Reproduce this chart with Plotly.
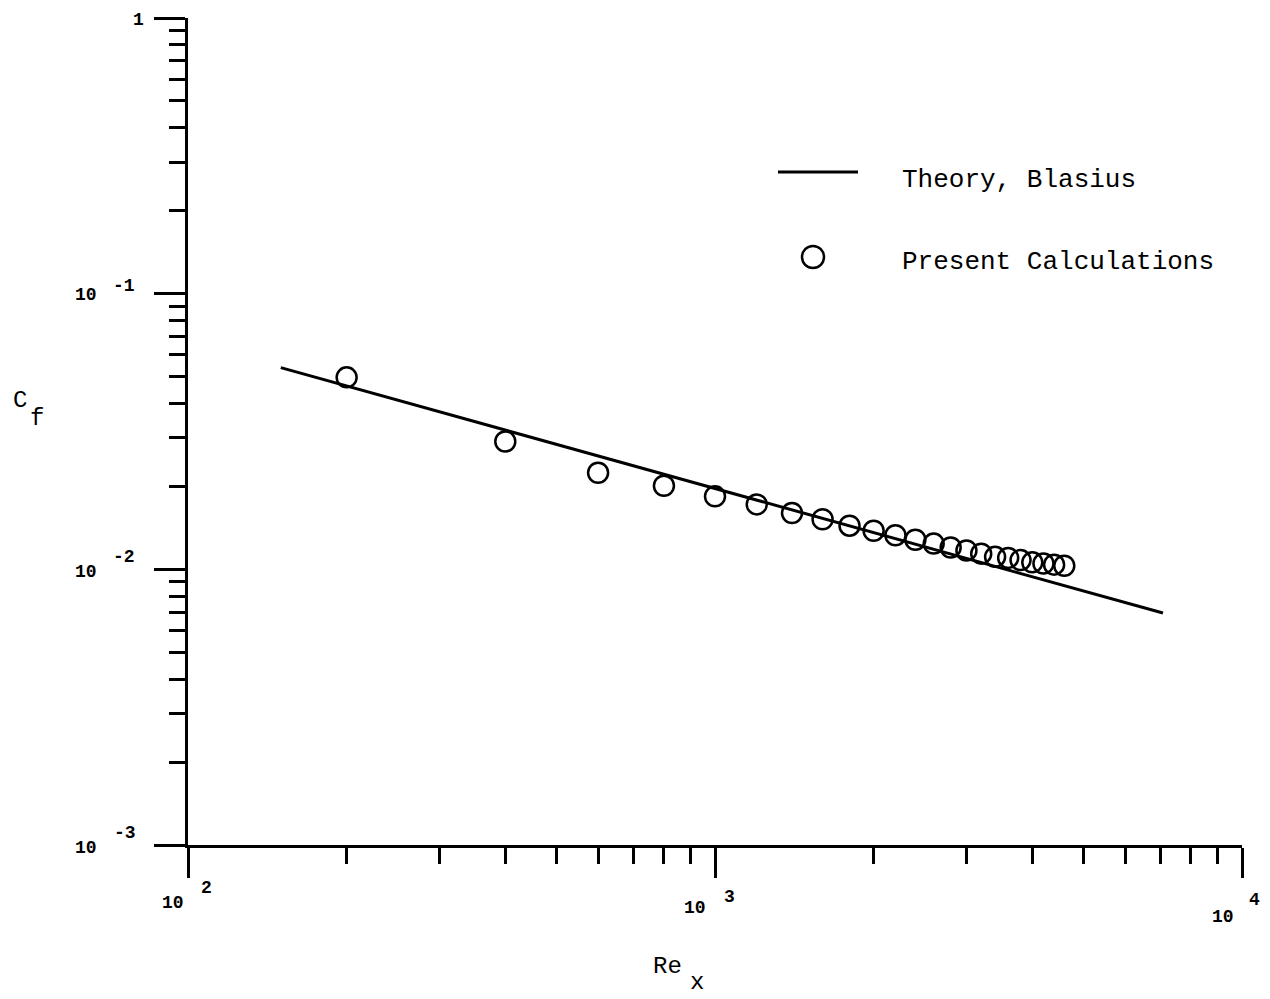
import plotly.graph_objects as go

# ---- data ----
theory_re = [150, 7080]
theory_cf = [0.0539, 0.00694]

calc_re = [200, 400, 600, 800, 1000, 1200, 1400, 1600, 1800, 2000, 2200, 2400,
           2600, 2800, 3000, 3200, 3400, 3600, 3800, 4000, 4200, 4400, 4600]
calc_cf = [0.0497, 0.0291, 0.0224, 0.0201, 0.0184, 0.0172, 0.0160, 0.0152, 0.0144,
           0.0138, 0.0133, 0.0128, 0.0124, 0.0120, 0.0117, 0.0114, 0.0111, 0.0110,
           0.0108, 0.0106, 0.0105, 0.0104, 0.0103]

x_major = [100, 1000, 10000]
x_minor = [m * d for d in (100, 1000) for m in range(2, 10)]
y_major = [0.001, 0.01, 0.1, 1]
y_minor = [m * d for d in (0.001, 0.01, 0.1) for m in range(2, 10)]

legend_labels = ["Theory, Blasius", "Present Calculations"]

# page body has an 8px margin; size the figure so it fills the window
OFF = 8
W, H = 1270 - OFF, 999 - OFF
L, T = 188 - OFF, 18 - OFF
R = W - (1242 - OFF)
B = H - (845 - OFF)
PW, PH = W - L - R, H - T - B


def px(x):  # screenshot pixel -> paper
    return (x - OFF - L) / PW


def py(y):
    return (H - B - (y - OFF)) / PH


fig = go.Figure()
fig.add_trace(go.Scatter(x=theory_re, y=theory_cf, mode="lines",
                         line=dict(color="black", width=3), showlegend=False))
fig.add_trace(go.Scatter(x=calc_re, y=calc_cf, mode="markers",
                         marker=dict(symbol="circle-open", size=20, color="black",
                                     line=dict(width=2.5, color="black")),
                         showlegend=False))

tickfont = dict(family="Liberation Mono", size=18, color="black")
textfont = dict(family="Liberation Mono", size=26, color="black")
titlefont = dict(family="Liberation Mono", size=24, color="black")

annos = []


def add_text(text, x, y, font):
    annos.append(dict(text=text, x=px(x), y=py(y), xref="paper", yref="paper",
                      xanchor="center", yanchor="middle", showarrow=False, font=font))


# y tick labels
add_text("<b>1</b>", 138, 20, tickfont)
add_text("<b>10</b>", 86, 295, tickfont)
add_text("<b>-1</b>", 124, 286, tickfont)
add_text("<b>10</b>", 86, 572, tickfont)
add_text("<b>-2</b>", 124, 557, tickfont)
add_text("<b>10</b>", 86, 848, tickfont)
add_text("<b>-3</b>", 125, 833, tickfont)
# x tick labels
add_text("<b>10</b>", 173, 903, tickfont)
add_text("<b>2</b>", 206, 888, tickfont)
add_text("<b>10</b>", 695, 908, tickfont)
add_text("<b>3</b>", 729, 897, tickfont)
add_text("<b>10</b>", 1223, 917, tickfont)
add_text("<b>4</b>", 1254, 900, tickfont)
# axis titles
add_text("Re", 667, 966, titlefont)
add_text("x", 697, 982, titlefont)
add_text("C", 20, 400, titlefont)
add_text("f", 37, 418, titlefont)
# legend text
annos.append(dict(text=legend_labels[0], x=px(900), y=py(180), xref="paper", yref="paper",
                  xanchor="left", yanchor="middle", showarrow=False, font=textfont))
annos.append(dict(text=legend_labels[1], x=px(900), y=py(262), xref="paper", yref="paper",
                  xanchor="left", yanchor="middle", showarrow=False, font=textfont))

shapes = [
    dict(type="line", xref="paper", yref="paper", x0=px(778), x1=px(858),
         y0=py(172), y1=py(172), line=dict(color="black", width=3)),
    dict(type="circle", xref="paper", yref="paper", x0=px(813 - 11), x1=px(813 + 11),
         y0=py(257 + 11), y1=py(257 - 11), line=dict(color="black", width=2.5)),
]

fig.update_layout(
    width=W, height=H,
    margin=dict(l=L, r=R, t=T, b=B, autoexpand=False),
    paper_bgcolor="white", plot_bgcolor="white",
    showlegend=False,
    annotations=annos, shapes=shapes,
    xaxis=dict(type="log", range=[2, 4], showgrid=False, zeroline=False,
               showline=True, linecolor="black", linewidth=3,
               tickmode="array", tickvals=x_major, showticklabels=False,
               ticks="outside", ticklen=30, tickwidth=3, tickcolor="black",
               minor=dict(tickmode="array", tickvals=x_minor, ticks="outside",
                          ticklen=16, tickwidth=3, tickcolor="black", showgrid=False)),
    yaxis=dict(type="log", range=[-3, 0], showgrid=False, zeroline=False,
               showline=True, linecolor="black", linewidth=3,
               tickmode="array", tickvals=y_major, showticklabels=False,
               ticks="outside", ticklen=31, tickwidth=3, tickcolor="black",
               minor=dict(tickmode="array", tickvals=y_minor, ticks="outside",
                          ticklen=16, tickwidth=3, tickcolor="black", showgrid=False)),
)

fig.write_html("out.html")
